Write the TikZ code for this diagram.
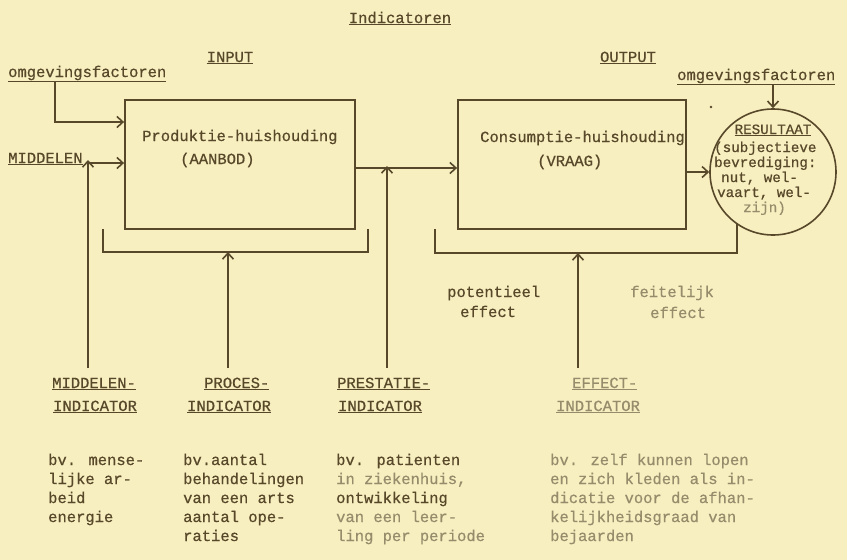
\documentclass[tikz,border=0pt]{standalone}
\usepackage{fontspec}
\setmainfont{Liberation Mono}[FakeBold=0.6]
\usetikzlibrary{arrows.meta}
\definecolor{bg}{RGB}{247,239,192}
\definecolor{ink}{RGB}{88,72,42}
\definecolor{faint}{RGB}{150,140,108}
\tikzset{
  lbl/.style={anchor=base west, inner sep=0pt, text=ink, font=\fontsize{15.5}{18}\selectfont},
  lblc/.style={anchor=base, inner sep=0pt, text=ink, font=\fontsize{15.5}{18}\selectfont},
  small/.style={font=\fontsize{14.2}{17}\selectfont},
  pale/.style={text=faint},
  ln/.style={draw=ink, line width=1.8pt},
  arr/.style={ln, -{Straight Barb[length=6pt,width=11pt,line width=1.6pt]}},
  boxsh/.style={draw=ink, line width=1.8pt, inner sep=0pt, rectangle},
}
\begin{document}
\begin{tikzpicture}[x=1pt,y=-1pt]
\fill[bg] (0,0) rectangle (847,560);
\useasboundingbox (0,0) rectangle (847,560);

% titles
\node[lblc] (ind) at (400,23) {\underline{Indicatoren}};
\node[lblc] (inp) at (230,62) {\underline{INPUT}};
\node[lblc] (outp) at (628,62) {\underline{OUTPUT}};

% left inputs
\node[lbl] (omg1) at (8,77) {\underline{omgevingsfactoren}};
\node[lbl] (midd) at (8,163) {\underline{MIDDELEN}};

% boxes
\node[boxsh, minimum width=230pt, minimum height=129pt] (prod) at (240,164.5) {};
\node[boxsh, minimum width=228pt, minimum height=129pt] (cons) at (572,164.5) {};
\node[lbl] (prodt) at (142,141) {Produktie-huishouding};
\node[lbl] (prodb) at (180,164) {(AANBOD)};
\node[lbl] (const) at (480,142) {Consumptie-huishouding};
\node[lbl] (consb) at (537,166) {(VRAAG)};

% result circle
\node[circle, draw=ink, line width=1.6pt, minimum size=126pt, inner sep=0pt] (res) at (773,172) {};
\node[lbl] (omg2) at (677,80) {\underline{omgevingsfactoren}};
\fill[ink] (711,107) circle (1.4pt);
\node[lblc, small] (rest) at (773,134) {\underline{RESULTAAT}};
\node[lbl, small] (r1) at (714,152) {(subjectieve};
\node[lbl, small] (r2) at (714,167) {bevrediging:};
\node[lbl, small] (r3) at (721,182) {nut, wel-};
\node[lbl, small] (r4) at (717,197) {vaart, wel-};
\node[lbl, small, pale] (r5) at (743,212) {zijn)};

% coordinates
\coordinate (o1) at (55,82);
\coordinate (o1k) at (55,122);
\coordinate (mj) at (88,163);
\coordinate (mb) at (88,368);
\coordinate (pj) at (228,252);
\coordinate (pb) at (228,368);
\coordinate (bl1) at (103,229);
\coordinate (bl2) at (103,252);
\coordinate (br2) at (368,252);
\coordinate (br1) at (368,229);
\coordinate (sj) at (387,168);
\coordinate (sb) at (387,368);
\coordinate (cj) at (686,172);
\coordinate (cl1) at (435,229);
\coordinate (cl2) at (435,253);
\coordinate (cr2) at (737,253);
\coordinate (cr1) at (737,223.5);
\coordinate (ej) at (578,253);
\coordinate (eb) at (578,368);
\coordinate (o2) at (773,85);

% connectors
\draw[arr] (o1) -- (o1k) -- (prod.west |- o1k);
\draw[arr] (mj) -- (prod.west |- mj);
\draw[arr] (mb) -- ([yshift=3pt]mj);
\draw[ln] (bl1) -- (bl2) -- (br2) -- (br1);
\draw[arr] (pb) -- (pj);
\draw[arr] (prod.east |- sj) -- (cons.west |- sj);
\draw[arr] (sb) -- ([yshift=2pt]sj);
\draw[arr] (cons.east |- cj) -- (res.west |- cj);
\draw[ln] (cl1) -- (cl2) -- (cr2) -- (cr1);
\draw[arr] (eb) -- (ej);
\draw[arr] (o2) -- (res.north);

% effect labels
\node[lbl] (pot1) at (447,297) {potentieel};
\node[lbl] (pot2) at (460,317) {effect};
\node[lbl, pale] (fei1) at (630,297) {feitelijk};
\node[lbl, pale] (fei2) at (650,318) {effect};

% indicator labels
\node[lbl] (mi1) at (52,388) {\underline{MIDDELEN-}};
\node[lbl] (mi2) at (53,411) {\underline{INDICATOR}};
\node[lbl] (pi1) at (204,388) {\underline{PROCES-}};
\node[lbl] (pi2) at (187,411) {\underline{INDICATOR}};
\node[lbl] (si1) at (337,388) {\underline{PRESTATIE-}};
\node[lbl] (si2) at (338,411) {\underline{INDICATOR}};
\node[lbl, pale] (ei1) at (572,388) {\underline{EFFECT-}};
\node[lbl, pale] (ei2) at (556,411) {\underline{INDICATOR}};

% examples
\node[lbl] (a1) at (48,465) {bv. mense-};
\node[lbl] (a2) at (48,484) {lijke ar-};
\node[lbl] (a3) at (48,503) {beid};
\node[lbl] (a4) at (48,522) {energie};

\node[lbl] (b1) at (183,465) {bv.aantal};
\node[lbl] (b2) at (183,484) {behandelingen};
\node[lbl] (b3) at (183,503) {van een arts};
\node[lbl] (b4) at (183,522) {aantal ope-};
\node[lbl] (b5) at (183,541) {raties};

\node[lbl] (c1) at (336,465) {bv. patienten};
\node[lbl, pale] (c2) at (336,484) {in ziekenhuis,};
\node[lbl] (c3) at (336,503) {ontwikkeling};
\node[lbl, pale] (c4) at (336,522) {van een leer-};
\node[lbl, pale] (c5) at (336,541) {ling per periode};

\node[lbl, pale] (d1) at (550,465) {bv. zelf kunnen lopen};
\node[lbl, pale] (d2) at (550,484) {en zich kleden als in-};
\node[lbl, pale] (d3) at (550,503) {dicatie voor de afhan-};
\node[lbl, pale] (d4) at (550,522) {kelijkheidsgraad van};
\node[lbl, pale] (d5) at (550,541) {bejaarden};
\end{tikzpicture}
\end{document}
